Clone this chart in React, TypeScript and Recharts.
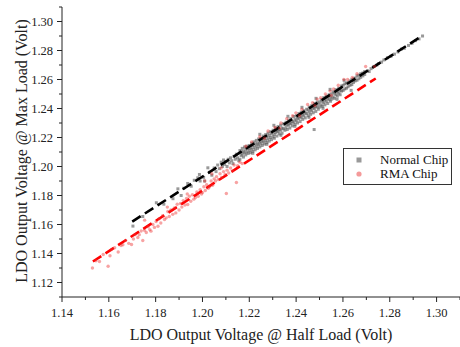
import { ScatterChart, Scatter, XAxis, YAxis, Legend, Label } from "recharts";

// readings: [half load V, max load V]
const normalChip: [number, number][] = [
  [1.1703, 1.1589], [1.1745, 1.1655], [1.1803, 1.175], [1.1835, 1.174], [1.1874, 1.1778],
  [1.1895, 1.1846], [1.1909, 1.18], [1.192, 1.185], [1.1937, 1.1883], [1.1952, 1.1864],
  [1.1965, 1.1905], [1.198, 1.1922], [1.1987, 1.1945], [1.199, 1.19], [1.2005, 1.1925],
  [1.2009, 1.19], [1.2023, 1.1991], [1.203, 1.196], [1.204, 1.194],
  [1.205, 1.199], [1.2058, 1.1965], [1.2065, 1.201], [1.2072, 1.1985], [1.208, 1.203],
  [1.2085, 1.2], [1.209, 1.2045], [1.2095, 1.2015], [1.21, 1.2035], [1.2105, 1.2],
  [1.211, 1.205], [1.2115, 1.2025], [1.212, 1.206], [1.2125, 1.204], [1.213, 1.202],
  [1.2135, 1.207], [1.214, 1.205], [1.2145, 1.2085], [1.215, 1.206], [1.2155, 1.204],
  [1.216, 1.205], [1.216, 1.211], [1.2165, 1.2075], [1.2165, 1.21], [1.217, 1.2085],
  [1.217, 1.2125], [1.2175, 1.2065], [1.2175, 1.2105], [1.218, 1.2095], [1.218, 1.2135],
  [1.2185, 1.208], [1.2185, 1.2118], [1.219, 1.21], [1.219, 1.214], [1.2195, 1.209],
  [1.2195, 1.2125],
  [1.22, 1.211], [1.22, 1.2145], [1.2205, 1.2095], [1.2205, 1.213], [1.221, 1.212],
  [1.221, 1.216], [1.2215, 1.2105], [1.2215, 1.2145], [1.222, 1.213], [1.222, 1.217],
  [1.2225, 1.2115], [1.2225, 1.2155], [1.223, 1.214], [1.223, 1.218], [1.2235, 1.2125],
  [1.2235, 1.216], [1.224, 1.215], [1.224, 1.219], [1.2245, 1.2135], [1.2245, 1.217],
  [1.225, 1.216], [1.225, 1.2195], [1.2255, 1.2145], [1.2255, 1.218], [1.226, 1.217],
  [1.226, 1.221], [1.2265, 1.2155], [1.2265, 1.2195], [1.227, 1.218], [1.227, 1.222],
  [1.2275, 1.2165], [1.2275, 1.2205], [1.228, 1.219], [1.228, 1.223], [1.2285, 1.2175],
  [1.2285, 1.2215], [1.229, 1.22], [1.229, 1.224], [1.2295, 1.2185], [1.2295, 1.2225],
  [1.2302, 1.2205], [1.2302, 1.225], [1.2307, 1.222], [1.2307, 1.2195], [1.2312, 1.2235],
  [1.2312, 1.2265], [1.2318, 1.221], [1.2318, 1.2245], [1.2323, 1.224], [1.2323, 1.2275],
  [1.2328, 1.2225], [1.2328, 1.2255], [1.2334, 1.225], [1.2334, 1.2285], [1.234, 1.223],
  [1.234, 1.2265], [1.2346, 1.226], [1.2346, 1.2295],
  [1.2352, 1.225], [1.2352, 1.229], [1.2357, 1.227], [1.2357, 1.2305], [1.2362, 1.2255],
  [1.2362, 1.229], [1.2368, 1.2285], [1.2368, 1.232], [1.2373, 1.2265], [1.2373, 1.23],
  [1.2378, 1.2295], [1.2378, 1.233], [1.2384, 1.228], [1.2384, 1.231], [1.239, 1.2305],
  [1.239, 1.2345], [1.2395, 1.229], [1.2395, 1.2325],
  [1.2401, 1.2315], [1.2401, 1.235], [1.2406, 1.23], [1.2406, 1.2335], [1.2412, 1.233],
  [1.2412, 1.2365], [1.2417, 1.231], [1.2417, 1.2345], [1.2422, 1.234], [1.2422, 1.2375],
  [1.2428, 1.2325], [1.2428, 1.236], [1.2433, 1.235], [1.2433, 1.2385], [1.2439, 1.2335],
  [1.2439, 1.237], [1.2445, 1.2365], [1.2445, 1.2395],
  [1.2451, 1.235], [1.2451, 1.239], [1.2456, 1.2375], [1.2456, 1.241], [1.2462, 1.236],
  [1.2462, 1.2395], [1.2467, 1.2385], [1.2467, 1.242], [1.2473, 1.237], [1.2473, 1.2405],
  [1.2478, 1.24], [1.2478, 1.2435], [1.2484, 1.238], [1.2484, 1.2415], [1.249, 1.241],
  [1.249, 1.2445], [1.2495, 1.2395], [1.2495, 1.243], [1.2477, 1.2255],
  [1.2501, 1.241], [1.2501, 1.2445], [1.2507, 1.2425], [1.2507, 1.246], [1.2512, 1.2415],
  [1.2512, 1.245], [1.2518, 1.244], [1.2518, 1.2475], [1.2523, 1.2425], [1.2523, 1.246],
  [1.2529, 1.245], [1.2529, 1.2485], [1.2535, 1.2435], [1.2535, 1.247], [1.2541, 1.246],
  [1.2541, 1.2495], [1.2547, 1.245], [1.2547, 1.248],
  [1.2552, 1.2465], [1.2552, 1.25], [1.2558, 1.248], [1.2558, 1.2515], [1.2564, 1.247],
  [1.2564, 1.2505], [1.257, 1.2495], [1.257, 1.253], [1.2576, 1.2485], [1.2576, 1.2515],
  [1.2582, 1.2505], [1.2582, 1.254], [1.2588, 1.2495], [1.2588, 1.2525], [1.2594, 1.252],
  [1.2594, 1.2555],
  [1.2601, 1.2525], [1.2601, 1.256], [1.2608, 1.2535], [1.2608, 1.257], [1.2615, 1.254],
  [1.2615, 1.2575], [1.2622, 1.255], [1.2622, 1.258], [1.263, 1.256], [1.263, 1.259],
  [1.2638, 1.2565], [1.2638, 1.26], [1.2645, 1.258], [1.2645, 1.2605],
  [1.2652, 1.259], [1.2652, 1.261], [1.266, 1.2595], [1.266, 1.2625], [1.2668, 1.2605],
  [1.2668, 1.263], [1.2676, 1.2615], [1.2676, 1.264], [1.2685, 1.2625], [1.2685, 1.2645],
  [1.2693, 1.2635], [1.2693, 1.2655],
  [1.2705, 1.266], [1.2712, 1.2655], [1.272, 1.2675], [1.2732, 1.269], [1.2745, 1.27],
  [1.2752, 1.271], [1.2765, 1.272], [1.2775, 1.2735], [1.279, 1.275], [1.2805, 1.276],
  [1.282, 1.2775], [1.2835, 1.279], [1.285, 1.281], [1.2862, 1.2815], [1.288, 1.2835],
  [1.2895, 1.285], [1.291, 1.2868], [1.2925, 1.288], [1.294, 1.29],
  // outer edges of the band
  [1.2215, 1.2091], [1.2245, 1.2222], [1.2275, 1.2153], [1.2305, 1.2284], [1.2335, 1.2215],
  [1.2365, 1.2346], [1.2395, 1.2277], [1.2425, 1.2408], [1.2455, 1.2339], [1.2485, 1.247],
  [1.2515, 1.2401], [1.2545, 1.2532], [1.2575, 1.2463], [1.2605, 1.2594], [1.2635, 1.2525],
];

const rmaChip: [number, number][] = [
  [1.153, 1.13], [1.1545, 1.135], [1.156, 1.1345], [1.1576, 1.1393], [1.1597, 1.1312],
  [1.1605, 1.1385], [1.1611, 1.1428], [1.1625, 1.144], [1.164, 1.141], [1.1652, 1.1455],
  [1.166, 1.146], [1.1672, 1.149], [1.1685, 1.147], [1.1697, 1.1462], [1.1705, 1.15],
  [1.1712, 1.153], [1.1724, 1.151], [1.173, 1.153], [1.1738, 1.1555], [1.1745, 1.149],
  [1.1752, 1.156], [1.1753, 1.163], [1.176, 1.1545], [1.1768, 1.1585], [1.1775, 1.1565],
  [1.178, 1.1554], [1.1788, 1.16], [1.1795, 1.158], [1.1802, 1.162], [1.181, 1.1588],
  [1.1815, 1.164], [1.1822, 1.161], [1.183, 1.166], [1.1838, 1.1635], [1.1845, 1.1646],
  [1.185, 1.172], [1.1852, 1.169], [1.1858, 1.1655], [1.1865, 1.17], [1.1873, 1.167],
  [1.188, 1.1715], [1.1886, 1.168], [1.1892, 1.174], [1.19, 1.17], [1.1906, 1.1745],
  [1.1912, 1.172], [1.1918, 1.1765], [1.1925, 1.1735], [1.1932, 1.178], [1.1935, 1.181],
  [1.1937, 1.1738], [1.1944, 1.1795], [1.195, 1.176], [1.1957, 1.1805], [1.1963, 1.1775],
  [1.197, 1.1786], [1.1976, 1.1825], [1.1982, 1.1795], [1.199, 1.184], [1.1996, 1.181],
  [1.2, 1.182], [1.2006, 1.186], [1.201, 1.19], [1.2012, 1.1835], [1.2018, 1.1875],
  [1.2025, 1.185], [1.203, 1.186], [1.2037, 1.19], [1.204, 1.195], [1.2043, 1.187],
  [1.205, 1.1915], [1.2056, 1.19], [1.206, 1.193], [1.2068, 1.191], [1.2075, 1.195],
  [1.208, 1.199], [1.2082, 1.1925], [1.209, 1.1965], [1.2097, 1.1945], [1.2102, 1.1814],
  [1.2105, 1.1975], [1.2112, 1.1955], [1.212, 1.199], [1.2128, 1.197], [1.2135, 1.201],
  [1.2145, 1.189], [1.215, 1.2005], [1.216, 1.203], [1.217, 1.202],
  [1.2185, 1.214], [1.221, 1.217], [1.2245, 1.2205], [1.2265, 1.2195], [1.228, 1.2245],
  [1.231, 1.227], [1.233, 1.2265], [1.2335, 1.23], [1.236, 1.233], [1.2385, 1.235],
  [1.2399, 1.237], [1.2415, 1.235], [1.2425, 1.2395], [1.2449, 1.2428], [1.247, 1.244],
  [1.248, 1.242], [1.249, 1.2465], [1.2505, 1.2475], [1.2525, 1.25], [1.2545, 1.252],
  [1.255, 1.249], [1.256, 1.2535], [1.258, 1.256], [1.2604, 1.26], [1.262, 1.26],
  [1.264, 1.2615], [1.266, 1.264], [1.2697, 1.269], [1.2735, 1.269],
];

// dashed fit lines, end points
const normalFit: [number, number][] = [[1.17, 1.162], [1.294, 1.2903]];
const rmaFit: [number, number][] = [[1.1532, 1.1345], [1.274, 1.2607]];

const xTicks = [1.14, 1.15, 1.16, 1.17, 1.18, 1.19, 1.2, 1.21, 1.22, 1.23, 1.24, 1.25, 1.26, 1.27, 1.28, 1.29, 1.3, 1.31];
const yTicks = [1.11, 1.12, 1.13, 1.14, 1.15, 1.16, 1.17, 1.18, 1.19, 1.2, 1.21, 1.22, 1.23, 1.24, 1.25, 1.26, 1.27, 1.28, 1.29, 1.3, 1.31];

const toPoints = (rows: [number, number][]) => rows.map(([x, y]) => ({ x, y }));

const FONT = "'Liberation Serif', 'Times New Roman', serif";
const AXIS = "#222";

const isMajor = (v: number) => Math.round(v * 100) % 2 === 0;

const XTick = (props: any) => {
  const { x, y, payload } = props;
  const major = isMajor(payload.value);
  return (
    <g>
      <line x1={x} y1={y} x2={x} y2={y + (major ? 5 : 3)} stroke={AXIS} />
      {major && (
        <text x={x} y={y + 20} textAnchor="middle" fill="#222" style={{ fontFamily: FONT, fontSize: 12.5 }}>
          {payload.value.toFixed(2)}
        </text>
      )}
    </g>
  );
};

const YTick = (props: any) => {
  const { x, y, payload } = props;
  const major = isMajor(payload.value);
  return (
    <g>
      <line x1={x - (major ? 5 : 3)} y1={y} x2={x} y2={y} stroke={AXIS} />
      {major && (
        <text x={x - 9} y={y + 4.5} textAnchor="end" fill="#222" style={{ fontFamily: FONT, fontSize: 12.5 }}>
          {payload.value.toFixed(2)}
        </text>
      )}
    </g>
  );
};

const GraySquare = (props: any) => (
  <rect x={props.cx - 1.5} y={props.cy - 1.5} width={3} height={3} fill="#555" fillOpacity={0.6} />
);

const PinkDot = (props: any) => (
  <circle cx={props.cx} cy={props.cy} r={1.7} fill="#ee3333" fillOpacity={0.45} />
);

const NoDot = () => <g />;

const LegendBox = (props: any) => {
  const items = (props.payload || []).filter((p: any) => p.value);
  return (
    <div
      style={{
        border: "1px solid #333",
        width: 107,
        height: 35,
        background: "#fff",
        fontFamily: FONT,
        fontSize: 13,
        color: "#111",
        position: "relative",
      }}
    >
      {items.map((item: any, i: number) => (
        <div
          key={item.value}
          style={{ position: "absolute", left: 0, top: 5 + i * 13.5, height: 12, lineHeight: "12px", width: 107 }}
        >
          <svg width={8} height={8} style={{ position: "absolute", left: 11, top: 2 }}>
            {i === 0 ? (
              <rect x={1.5} y={1.5} width={5} height={5} fill="#999" />
            ) : (
              <circle cx={4} cy={4} r={2.6} fill="#f49a9a" />
            )}
          </svg>
          <span style={{ position: "absolute", left: 36, top: 0, whiteSpace: "nowrap" }}>{item.value}</span>
        </div>
      ))}
    </div>
  );
};

const XTitle = (props: any) => {
  const { viewBox } = props;
  return (
    <text x={viewBox.x + viewBox.width / 2} y={340} textAnchor="middle" fill="#222" style={{ fontFamily: FONT, fontSize: 16 }}>
      LDO Output Voltage @ Half Load (Volt)
    </text>
  );
};

const YTitle = (props: any) => {
  const { viewBox } = props;
  const cy = viewBox.y + viewBox.height / 2 - 1;
  return (
    <text
      transform={`translate(27, ${cy}) rotate(-90)`}
      textAnchor="middle"
      fill="#222"
      style={{ fontFamily: FONT, fontSize: 16 }}
    >
      LDO Output Voltage @ Max Load (Volt)
    </text>
  );
};

export default function App() {
  return (
    <div style={{ width: 460, height: 347, background: "#fff", position: "relative" }}>
      <style>{"body{margin:0;background:#fff}"}</style>
      <ScatterChart width={460} height={347} margin={{ top: 7, right: 0, bottom: 0, left: 0 }}>
        <XAxis
          type="number"
          dataKey="x"
          domain={[1.14, 1.31]}
          ticks={xTicks}
          interval={0}
          tick={<XTick />}
          tickLine={false}
          tickSize={0}
          tickMargin={0}
          axisLine={{ stroke: AXIS }}
          height={50}
          allowDataOverflow
        >
          <Label content={<XTitle />} />
        </XAxis>
        <YAxis
          type="number"
          dataKey="y"
          domain={[1.11, 1.31]}
          ticks={yTicks}
          interval={0}
          tick={<YTick />}
          tickLine={false}
          tickSize={0}
          tickMargin={0}
          axisLine={{ stroke: AXIS }}
          width={62}
          allowDataOverflow
        >
          <Label content={<YTitle />} />
        </YAxis>
        <Legend
          layout="vertical"
          align="center"
          verticalAlign="middle"
          content={<LegendBox />}
          wrapperStyle={{ left: 343, top: 148, width: 109, height: 37 }}
        />
        <Scatter name="Normal Chip" data={toPoints(normalChip)} shape={<GraySquare />} fill="#999" isAnimationActive={false} />
        <Scatter
          data={toPoints(normalFit)}
          shape={<NoDot />}
          line={{ stroke: "#000", strokeWidth: 2.6, strokeDasharray: "10 5" }}
          legendType="none"
          isAnimationActive={false}
        />
        <Scatter
          data={toPoints(rmaFit)}
          shape={<NoDot />}
          line={{ stroke: "#ff0000", strokeWidth: 2.6, strokeDasharray: "10 5" }}
          legendType="none"
          isAnimationActive={false}
        />
        <Scatter name="RMA Chip" data={toPoints(rmaChip)} shape={<PinkDot />} fill="#f49a9a" isAnimationActive={false} />
      </ScatterChart>
    </div>
  );
}
